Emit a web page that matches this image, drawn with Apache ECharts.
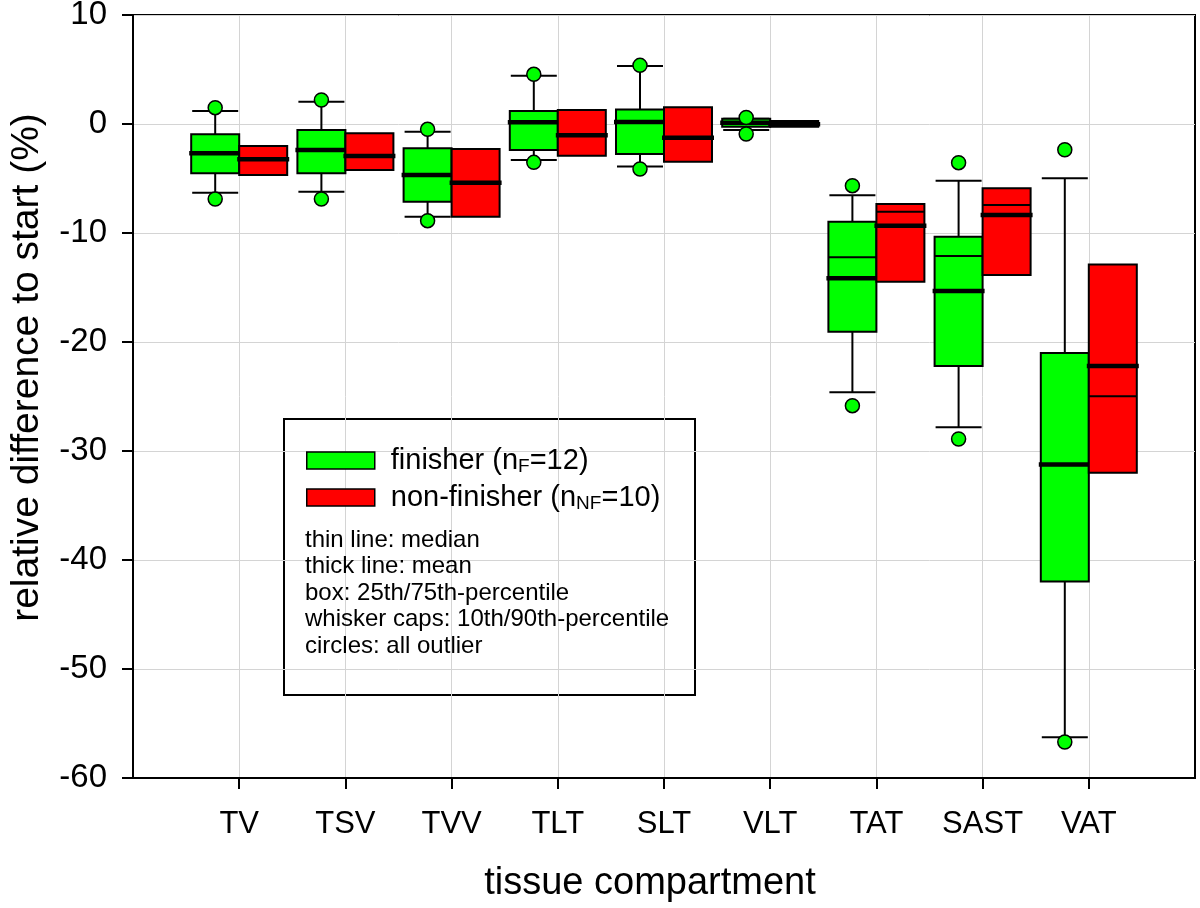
<!DOCTYPE html>
<html>
<head>
<meta charset="utf-8">
<script src="https://cdn.jsdelivr.net/npm/echarts@6/dist/echarts.min.js"></script>
<style>html,body{margin:0;padding:0;background:#fff;}#chart{width:1200px;height:908px;}</style>
</head>
<body>
<div id="chart"></div>
<script>
// ---- data ----
const categories = ['TV', 'TSV', 'TVV', 'TLT', 'SLT', 'VLT', 'TAT', 'SAST', 'VAT'];
const yTicks = [-60, -50, -40, -30, -20, -10, 0, 10];

// finisher: 25th, 75th, median, mean, 10th, 90th
const finQ1     = [-4.52, -4.52, -7.13, -2.39, -2.75, -0.25, -19.06, -22.2, -41.97];
const finQ3     = [-0.95, -0.55, -2.23, 1.19, 1.34, 0.48, -8.96, -10.34, -21.0];
const finMedian = [-2.69, -2.39, -4.68, 0.15, 0.18, 0.1, -12.23, -12.11, -31.24];
const finMean   = [-2.69, -2.39, -4.68, 0.15, 0.18, 0.12, -14.16, -15.32, -31.24];
const finP10    = [-6.3, -6.21, -8.5, -3.3, -3.91, -0.55, -24.6, -27.83, -56.25];
const finP90    = [1.19, 2.05, -0.7, 4.43, 5.32, 0.48, -6.54, -5.2, -4.98];
const finOutHigh = [1.5, 2.2, -0.49, 4.56, 5.38, 0.6, -5.66, -3.55, -2.36];
const finOutLow  = [-6.88, -6.88, -8.87, -3.52, -4.13, -0.92, -25.84, -28.9, -56.7];

// non-finisher: 25th, 75th, median, mean (no whiskers drawn)
const nonQ1     = [-4.68, -4.22, -8.5, -2.91, -3.46, -0.25, -14.47, -13.85, -32.0];
const nonQ3     = [-2.02, -0.86, -2.29, 1.28, 1.53, 0.28, -7.34, -5.9, -12.9];
const nonMedian = [-3.24, -2.85, -5.38, -1.04, -1.26, -0.03, -8.04, -7.43, -24.98];
const nonMean   = [-3.24, -2.94, -5.38, -1.04, -1.26, -0.03, -9.33, -8.35, -22.2];

const GREEN = '#00ff00', RED = '#ff0000';
const BW = 0.452;            // box width in axis units
const FONT = 'Liberation Sans, Arial, Helvetica, sans-serif';

const finData = categories.map((c, i) => [i + 1, finQ1[i], finQ3[i], finMedian[i], finMean[i], finP10[i], finP90[i]]);
const nonData = categories.map((c, i) => [i + 1, nonQ1[i], nonQ3[i], nonMedian[i], nonMean[i], null, null]);
const outData = [];
categories.forEach((c, i) => {
  outData.push([i + 1 - BW / 2, finOutHigh[i]]);
  outData.push([i + 1 - BW / 2, finOutLow[i]]);
});

function makeRender(side, color) {
  return function (params, api) {
    const x = api.value(0);
    const xa = side < 0 ? x - BW : x;
    const xb = side < 0 ? x : x + BW;
    const xc = (xa + xb) / 2;
    const q1 = api.value(1), q3 = api.value(2), med = api.value(3), mean = api.value(4);
    const lo = api.value(5), hi = api.value(6);
    const P = (xv, yv) => api.coord([xv, yv]);
    const children = [];
    const lineStyle = { stroke: '#000', lineWidth: 2 };
    const hasW = lo != null && !isNaN(lo) && hi != null && !isNaN(hi);
    if (hasW) {
      const a = P(xc, hi), b = P(xc, q3), c = P(xc, q1), d = P(xc, lo);
      children.push({ type: 'line', shape: { x1: a[0], y1: a[1], x2: b[0], y2: b[1] }, style: lineStyle });
      children.push({ type: 'line', shape: { x1: c[0], y1: c[1], x2: d[0], y2: d[1] }, style: lineStyle });
      const h1 = P(xa, hi), h2 = P(xb, hi), l1 = P(xa, lo), l2 = P(xb, lo);
      children.push({ type: 'line', shape: { x1: h1[0] + 1, y1: h1[1], x2: h2[0] - 1, y2: h2[1] }, style: lineStyle });
      children.push({ type: 'line', shape: { x1: l1[0] + 1, y1: l1[1], x2: l2[0] - 1, y2: l2[1] }, style: lineStyle });
    }
    const tl = P(xa, q3), br = P(xb, q1);
    children.push({ type: 'rect', shape: { x: tl[0], y: tl[1], width: br[0] - tl[0], height: br[1] - tl[1] },
      style: { fill: color, stroke: '#000', lineWidth: 2 } });
    const m1 = P(xa, med), m2 = P(xb, med);
    children.push({ type: 'line', shape: { x1: m1[0], y1: m1[1], x2: m2[0], y2: m2[1] }, style: { stroke: '#000', lineWidth: 2 } });
    const n1 = P(xa, mean), n2 = P(xb, mean);
    children.push({ type: 'line', shape: { x1: n1[0] - 2, y1: n1[1], x2: n2[0] + 2, y2: n2[1] }, style: { stroke: '#000', lineWidth: 4.5 } });
    return { type: 'group', children };
  };
}

const chart = echarts.init(document.getElementById('chart'), null, { renderer: 'canvas' });
chart.setOption({
  animation: false,
  backgroundColor: '#ffffff',
  grid: { left: 133, right: 5, top: 15, bottom: 130, show: true, borderColor: '#000', borderWidth: 2,
    backgroundColor: 'transparent', outerBoundsMode: 'none', containLabel: false },
  xAxis: {
    type: 'value', min: 0, max: 10, interval: 1,
    name: 'tissue compartment', nameLocation: 'middle', nameGap: 87,
    nameTextStyle: { fontFamily: FONT, fontSize: 38, color: '#000', padding: [0, 28, 0, 0] },
    axisLine: { show: true, onZero: false, lineStyle: { color: '#000', width: 2 } },
    axisTick: { show: true, inside: false, length: 11, lineStyle: { color: '#000', width: 2 }, customValues: categories.map((c, i) => i + 1) },
    axisLabel: { show: true, margin: 31, fontFamily: FONT, fontSize: 31, color: '#000',
      customValues: categories.map((c, i) => i + 1),
      formatter: v => categories[Math.round(v) - 1] || '' },
    splitLine: { show: true, lineStyle: { color: '#d4d4d4', width: 1 } }
  },
  yAxis: {
    type: 'value', min: yTicks[0], max: yTicks[yTicks.length - 1], interval: 10,
    name: 'relative difference to start (%)', nameLocation: 'middle', nameGap: 86, nameRotate: 90,
    nameTextStyle: { fontFamily: FONT, fontSize: 39, color: '#000', padding: [0, 0, 0, 58] },
    axisLine: { show: true, lineStyle: { color: '#000', width: 2 } },
    axisTick: { show: true, inside: false, length: 11, lineStyle: { color: '#000', width: 2 } },
    axisLabel: { margin: 26, fontFamily: FONT, fontSize: 33, color: '#000' },
    splitLine: { show: true, lineStyle: { color: '#d4d4d4', width: 1 } }
  },
  legend: {
    left: 306, top: 446, orient: 'vertical', itemWidth: 68, itemHeight: 17, itemGap: 7, padding: 0,
    selectedMode: false,
    textStyle: { fontFamily: FONT, fontSize: 29, color: '#000', padding: [0, 0, 0, 11],
      rich: {
        a: { fontFamily: FONT, fontSize: 29, color: '#000' },
        s: { fontFamily: FONT, fontSize: 19, color: '#000', verticalAlign: 'bottom', padding: [12, 0, 0, 0] }
      } },
    formatter: name => name === 'finisher' ? '{a|finisher (n}{s|F}{a|=12)}' : '{a|non-finisher (n}{s|NF}{a|=10)}',
    data: [
      { name: 'finisher', icon: 'rect', itemStyle: { color: GREEN, borderColor: '#000', borderWidth: 1.5 } },
      { name: 'non-finisher', icon: 'rect', itemStyle: { color: RED, borderColor: '#000', borderWidth: 1.5 } }
    ]
  },
  graphic: [
    { type: 'rect', z: 0, shape: { x: 284, y: 419, width: 411, height: 276 }, style: { fill: '#fff', stroke: '#000', lineWidth: 2 } },
    { type: 'text', z: 1, left: 305, top: 527, style: { text: 'thin line: median\nthick line: mean\nbox: 25th/75th-percentile\nwhisker caps: 10th/90th-percentile\ncircles: all outlier',
      font: '24px ' + FONT, fill: '#000', lineHeight: 26.5 } }
  ],
  series: [
    { name: 'finisher', type: 'custom', renderItem: makeRender(-1, GREEN), data: finData, z: 3,
      itemStyle: { color: GREEN, borderColor: '#000' }, encode: { x: 0, y: [1, 2, 3, 4, 5, 6] } },
    { name: 'non-finisher', type: 'custom', renderItem: makeRender(1, RED), data: nonData, z: 3,
      itemStyle: { color: RED, borderColor: '#000' }, encode: { x: 0, y: [1, 2, 3, 4] } },
    { name: 'outliers', type: 'scatter', data: outData, symbol: 'circle', symbolSize: 14, z: 5,
      itemStyle: { color: GREEN, borderColor: '#000', borderWidth: 1.5, opacity: 1 } }
  ]
});
</script>
</body>
</html>
